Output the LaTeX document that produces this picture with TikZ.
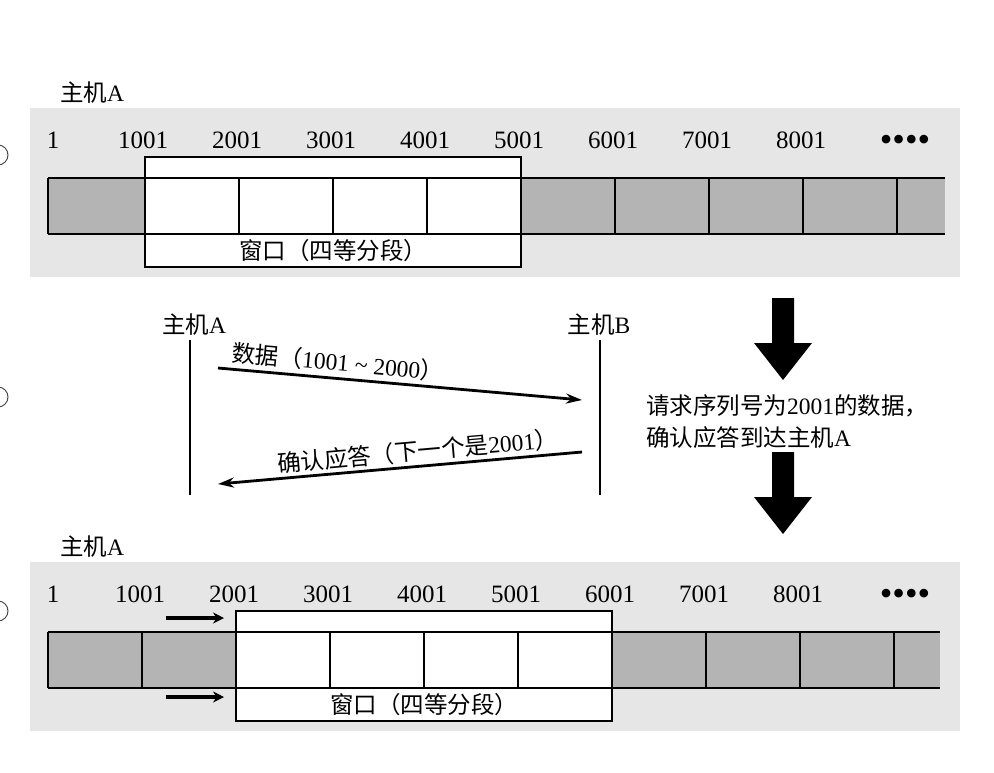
\documentclass[tikz,border=0pt]{standalone}
\usepackage{fontspec}
\setmainfont{Liberation Serif}
\newfontfamily\cjk{Noto Sans CJK SC}
\usetikzlibrary{arrows.meta}
\definecolor{bgc}{HTML}{E6E6E6}
\definecolor{cellc}{HTML}{B4B4B4}

\newcommand{\mypanel}[5]{%
  % #1 tag, #2 y offset, #3 first divider x, #4 strip right end, #5 window start index
  \begin{scope}[shift={(0,#2)}]
    \pgfmathsetmacro{\wa}{#3+94*#5}
    \pgfmathsetmacro{\wb}{\wa+94*4}
    \fill[bgc] (30,108) rectangle (960,277);
    \draw[winbox] (\wa,157) rectangle (\wb,267);
    \fill[cellc] (48,178) rectangle (\wa,234);
    \fill[cellc] (\wb,178) rectangle (#4,234);
    \draw[stripline] (48,178) -- (#4,178) (48,234) -- (#4,234);
    \draw[divline] (48,178) -- (48,234);
    \foreach \k in {0,...,8} {\draw[divline] ({#3+94*\k},178) -- ({#3+94*\k},234);}
    \node[num] (#1n0) at (53,140) {1};
    \foreach \k/\t in {0/1001,1/2001,2/3001,3/4001,4/5001,5/6001,6/7001,7/8001}
      {\node[num] (#1n\t) at ({#3+94*\k-2},140) {\t};}
    \node[num] (#1dots) at (905,143) {{\fontsize{36}{36}\selectfont ••••}};
    \node[lbl] (#1win) at ({(\wa+\wb)/2},251) {窗口（四等分段）};
    \node[lbl, anchor=west] (#1host) at (60,93) {主机{\rmfamily A}};
  \end{scope}}

\begin{document}
\begin{tikzpicture}[x=1pt,y=-1pt,
  num/.style={font=\fontsize{25}{26}\selectfont, inner sep=0pt},
  lbl/.style={font=\cjk\fontsize{23.5}{32}\selectfont, inner sep=0pt},
  winbox/.style={draw=black, fill=white, line width=2pt},
  stripline/.style={line width=2.6pt},
  divline/.style={line width=2pt},
  msg/.style={line width=2.8pt, -{Stealth[length=16pt,width=10pt]}},
  lifeline/.style={line width=2.4pt},
  bigarrow/.style={fill=black},
  smallarrow/.style={line width=3.5pt, -{Stealth[length=11pt,width=11pt]}},
  circ/.style={draw=black!70, line width=1pt}
]
\useasboundingbox (0,0) rectangle (994,772);

% panel 1 and 3
\mypanel{p}{0}{145}{945}{0}
\mypanel{q}{454}{142}{940}{1}

% small arrows in panel 3
\coordinate (sa1) at (166,618);
\coordinate (sa2) at (224,618);
\coordinate (sb1) at (166,697);
\coordinate (sb2) at (224,697);
\draw[smallarrow] (sa1) -- (sa2);
\draw[smallarrow] (sb1) -- (sb2);

% circled markers (cut off at the left edge)
\draw[circ] (-2,155) circle (10);
\draw[circ] (-2,397) circle (10);
\draw[circ] (-2,611) circle (10);

% panel 2: sequence
\node[lbl] (ha) at (194,325) {主机{\rmfamily A}};
\node[lbl] (hb) at (599,325) {主机{\rmfamily B}};
\coordinate (aTop) at (190,340);
\coordinate (aBot) at (190,495);
\coordinate (bTop) at (600,340);
\coordinate (bBot) at (600,495);
\draw[lifeline] (aTop) -- (aBot);
\draw[lifeline] (bTop) -- (bBot);

\coordinate (m1s) at (218,368);
\coordinate (m1e) at (582,400);
\coordinate (m2s) at (582,452);
\coordinate (m2e) at (218,484);
\draw[msg] (m1s) -- (m1e);
\draw[msg] (m2s) -- (m2e);
\node[lbl, rotate=-5] (l1) at (338,362) {数据（{\rmfamily 1001 \textasciitilde\ 2000}）};
\node[lbl, rotate=5] (l2) at (418,451) {确认应答（下一个是{\rmfamily 2001}）};

% big arrows
\fill[bigarrow] (772,298) -- (794,298) -- (794,343) -- (812,343) -- (783,380)
  -- (754,343) -- (772,343) -- cycle;
\fill[bigarrow] (772,452) -- (794,452) -- (794,497) -- (812,497) -- (783,534)
  -- (754,497) -- (772,497) -- cycle;

\node[lbl, anchor=west, align=left] (note) at (646,422)
  {请求序列号为{\rmfamily 2001}的数据，\\确认应答到达主机{\rmfamily A}};
\end{tikzpicture}
\end{document}
